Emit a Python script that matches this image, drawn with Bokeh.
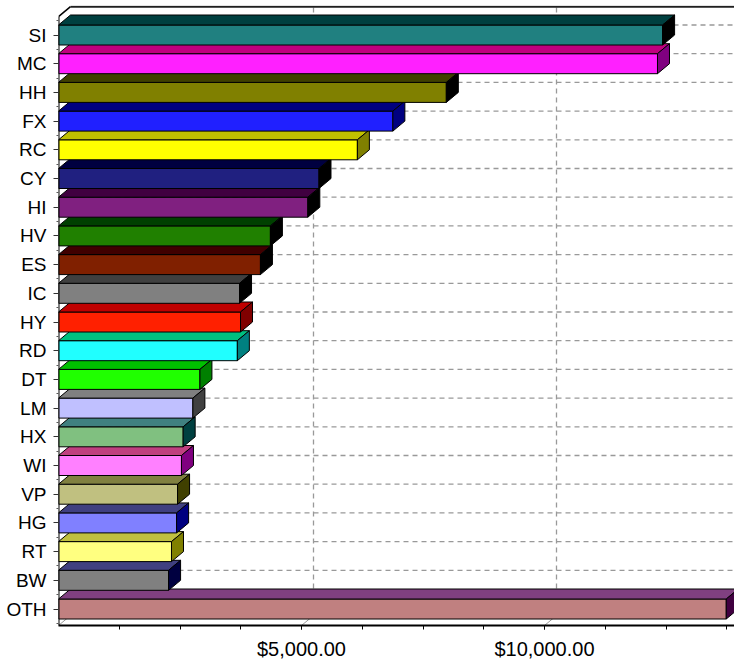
from bokeh.plotting import figure
from bokeh.models import FixedTicker, Range1d
from bokeh.embed import file_html
from bokeh.resources import INLINE

# ---- data (top to bottom as shown) ----
categories = ["SI", "MC", "HH", "FX", "RC", "CY", "HI", "HV", "ES", "IC", "HY",
              "RD", "DT", "LM", "HX", "WI", "VP", "HG", "RT", "BW", "OTH"]
values = [12430, 12325, 7980, 6880, 6150, 5360, 5130, 4360, 4155, 3725, 3745,
          3680, 2910, 2765, 2565, 2530, 2450, 2430, 2325, 2265, 13740]
tick_values = [5000, 10000]
tick_labels = ["$5,000.00", "$10,000.00"]

front_colors = ["#208080", "#FF20FF", "#808000", "#2020FF", "#FFFF00", "#202080",
                "#802080", "#208000", "#802000", "#808080", "#FF2000", "#20FFFF",
                "#20FF00", "#C0C0FF", "#80C080", "#FF80FF", "#C0C080", "#8080FF",
                "#FFFF80", "#808080", "#C08080"]
top_colors = ["#004040", "#C0007F", "#404000", "#000080", "#C0C000", "#000040",
              "#400040", "#004000", "#400000", "#404040", "#C00000", "#00C080",
              "#00C000", "#808080", "#408080", "#C04080", "#808040", "#404080",
              "#C0C040", "#404080", "#804080"]
side_colors = ["#000000", "#800080", "#000000", "#000080", "#808000", "#000000",
               "#000000", "#000000", "#000000", "#000000", "#800000", "#008080",
               "#008000", "#404040", "#004040", "#800080", "#404000", "#000080",
               "#808000", "#000040", "#400040"]

# ---- geometry (pixel based) ----
FRAME_W = 676
PX_PER_UNIT_X = 0.0486          # px per dollar
PX_PER_CAT = 28.7               # px per category
X_END = FRAME_W / PX_PER_UNIT_X
Y_START = -16.5 / PX_PER_CAT
Y_END = 20 + 29.5 / PX_PER_CAT
DX = 12 / PX_PER_UNIT_X
DY = 10 / PX_PER_CAT
BAR_H = 20 / PX_PER_CAT
Y_BACK_TOP = Y_END - 1.2 / PX_PER_CAT
Y_FRONT_TOP = Y_BACK_TOP - DY

n = len(categories)
ypos = [n - 1 - i for i in range(n)]   # SI at top

p = figure(width=734, height=662, x_range=Range1d(0, X_END),
           y_range=Range1d(Y_START, Y_END), output_backend="svg",
           toolbar_location=None, min_border_left=58, min_border_right=0,
           min_border_top=5, min_border_bottom=37)
p.outline_line_color = None
p.grid.visible = False
p.background_fill_color = "white"
p.border_fill_color = "white"

GRID = "#999999"
# back wall horizontal gridlines at category centres
p.segment(x0=[DX] * n, y0=[y + DY for y in ypos], x1=[X_END] * n,
          y1=[y + DY for y in ypos], line_color=GRID, line_dash="5 4", line_width=1.3)
# back wall vertical gridlines
p.segment(x0=[t + DX for t in tick_values], y0=[Y_START + DY] * 2,
          x1=[t + DX for t in tick_values], y1=[Y_BACK_TOP] * 2,
          line_color=GRID, line_dash="5 4", line_width=1.3)
# floor diagonals
floor_x = [0] + tick_values
p.segment(x0=floor_x, y0=[Y_START] * 3, x1=[x + DX for x in floor_x],
          y1=[Y_START + DY] * 3, line_color=GRID, line_width=1)

# bars: bottom first so upper bars overlap correctly
xs, ys, fills = [], [], []
for i in sorted(range(n), key=lambda j: ypos[j]):
    v, y = values[i], ypos[i]
    b, t = y - BAR_H / 2, y + BAR_H / 2
    xs.append([0, v, v, 0]); ys.append([b, b, t, t]); fills.append(front_colors[i])
    xs.append([0, v, v + DX, DX]); ys.append([t, t, t + DY, t + DY]); fills.append(top_colors[i])
    xs.append([v, v + DX, v + DX, v]); ys.append([b, b + DY, t + DY, t]); fills.append(side_colors[i])
p.patches(xs=xs, ys=ys, fill_color=fills, line_color="black", line_width=1)

# front y axis line, top diagonal and back-wall top edge
p.segment(x0=[0], y0=[Y_START], x1=[0], y1=[Y_FRONT_TOP], line_color="black", line_width=2)
p.segment(x0=[0], y0=[Y_FRONT_TOP], x1=[DX], y1=[Y_BACK_TOP], line_color="black", line_width=1.5)
p.segment(x0=[DX], y0=[Y_BACK_TOP], x1=[X_END], y1=[Y_BACK_TOP], line_color="#202020", line_width=2)

# axes
xa = p.xaxis[0]
xa.ticker = FixedTicker(ticks=tick_values,
                        minor_ticks=[1250 * k for k in range(1, 12)])
xa.major_label_overrides = {t: l for t, l in zip(tick_values, tick_labels)}
xa.axis_line_color = "black"
xa.axis_line_width = 2
xa.major_tick_out = 4
xa.major_tick_in = 0
xa.minor_tick_out = 4
xa.minor_tick_in = 0
xa.major_tick_line_color = "black"
xa.minor_tick_line_color = "black"
xa.major_label_standoff = 8
xa.major_label_text_font = "Liberation Sans"
xa.major_label_text_font_size = "20px"
xa.major_label_text_color = "black"

ya = p.yaxis[0]
ya.ticker = FixedTicker(ticks=ypos, minor_ticks=[k + 0.5 for k in range(-1, n)])
ya.major_label_overrides = {y: c for y, c in zip(ypos, categories)}
ya.axis_line_color = None
ya.major_tick_out = 5
ya.major_tick_in = 0
ya.minor_tick_out = 2
ya.minor_tick_in = 0
ya.major_tick_line_color = "#333333"
ya.minor_tick_line_color = "#555555"
ya.major_label_standoff = 7
ya.major_label_text_font = "Liberation Sans"
ya.major_label_text_font_size = "19px"
ya.major_label_text_color = "black"

open("out.html", "w").write(file_html(p, INLINE))
